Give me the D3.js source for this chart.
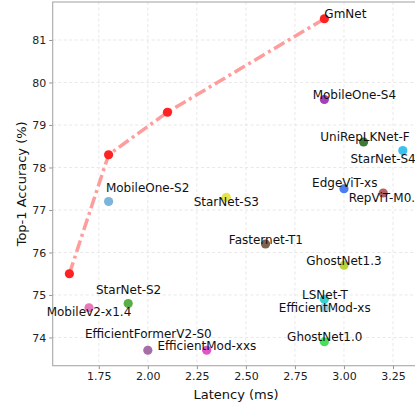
<!DOCTYPE html>
<html>
<head>
<meta charset="utf-8">
<script src="https://cdn.jsdelivr.net/npm/d3@7"></script>
<style>
  html, body { margin: 0; padding: 0; background: #fff; }
  svg { display: block; font-family: "DejaVu Sans", sans-serif; }
</style>
</head>
<body>
<svg id="chart" width="415" height="406"></svg>
<script>
// ---- data ----
const frontierLatency = [1.6, 1.8, 2.1, 2.9];
const frontierAccuracy = [75.5, 78.3, 79.3, 81.5];
const frontierName = "GmNet";

const models = ["MobileOne-S4", "UniRepLKNet-F", "StarNet-S4", "EdgeViT-xs", "RepViT-M0.9",
  "MobileOne-S2", "StarNet-S3", "Fasternet-T1", "GhostNet1.3", "LSNet-T", "EfficientMod-xs",
  "GhostNet1.0", "StarNet-S2", "Mobilev2-x1.4", "EfficientFormerV2-S0", "EfficientMod-xxs"];
const latency = [2.9, 3.1, 3.3, 3.0, 3.2, 1.8, 2.4, 2.6, 3.0, 2.9, 2.9, 2.9, 1.9, 1.7, 2.0, 2.3];
const accuracy = [79.6, 78.6, 78.4, 77.5, 77.4, 77.2, 77.3, 76.2, 75.7, 74.9, 74.7, 73.9, 74.8, 74.7, 73.7, 73.7];

const xTicks = [1.75, 2.00, 2.25, 2.50, 2.75, 3.00, 3.25];
const yTicks = [74, 75, 76, 77, 78, 79, 80, 81];
const xLabel = "Latency (ms)";
const yLabel = "Top-1 Accuracy (%)";

// ---- styles (kept apart from data) ----
const colors = ["#a341b9", "#3b7a37", "#3cc1ee", "#4a7ef0", "#b26262",
  "#7bb5dc", "#e6e64a", "#7d6352", "#b7d63a", "#3ccfcf", "#90d2f0",
  "#46e05a", "#5aae4a", "#e879b8", "#a66ea6", "#e056c6"];
// label offsets in px (dx, dy) relative to the point
const labelShift = [[30, -4.2], [1.4, -5], [-19.7, 8.8], [0.8, -5.7], [2.5, 5],
  [39, -13.5], [0, 4.5], [0.4, -4], [0, -4], [0.6, -4.5], [0.4, 0],
  [0.4, -4.5], [0.4, -13.2], [0, 4.5], [0.5, -16.7], [0.2, -4.3]];
const frontierLabelShift = [21, -4.5];

// ---- layout ----
const mLeft = 52.7, mRight = 419.5, mTop = 2, mBottom = 365.7;

const x = d3.scaleLinear().domain([1.515, 3.385]).range([mLeft, mRight]);
const y = d3.scaleLinear().domain([73.336, 81.894]).range([mBottom, mTop]);

const svg = d3.select("#chart");

// grid
const grid = svg.append("g");
grid.selectAll(".gx").data(xTicks).enter().append("line")
  .attr("x1", d => x(d)).attr("x2", d => x(d)).attr("y1", mTop).attr("y2", mBottom)
  .attr("stroke", "#e2e2e2").attr("stroke-width", 0.8).attr("stroke-dasharray", "3,2.5");
grid.selectAll(".gy").data(yTicks).enter().append("line")
  .attr("x1", mLeft).attr("x2", mRight).attr("y1", d => y(d)).attr("y2", d => y(d))
  .attr("stroke", "#e2e2e2").attr("stroke-width", 0.8).attr("stroke-dasharray", "3,2.5");

// axes
const xAxis = d3.axisBottom(x).tickValues(xTicks).tickFormat(d3.format(".2f")).tickSize(3.5).tickPadding(3);
const yAxis = d3.axisLeft(y).tickValues(yTicks).tickFormat(d3.format("d")).tickSize(3.5).tickPadding(3);
const gx = svg.append("g").attr("transform", `translate(0,${mBottom})`).call(xAxis);
const gy = svg.append("g").attr("transform", `translate(${mLeft},0)`).call(yAxis);
[gx, gy].forEach(g => {
  g.select(".domain").remove();
  g.selectAll(".tick line").attr("stroke", "#888").attr("stroke-width", 0.9);
  g.selectAll(".tick text").attr("fill", "#222").style("font-size", "11px")
    .style("font-family", "DejaVu Sans, sans-serif");
});

// spines
svg.append("rect").attr("x", mLeft).attr("y", mTop).attr("width", mRight - mLeft).attr("height", mBottom - mTop)
  .attr("fill", "none").attr("stroke", "#a8a8a8").attr("stroke-width", 1.1);

// frontier line
const line = d3.line().x(d => x(d[0])).y(d => y(d[1]));
const fData = frontierLatency.map((v, i) => [v, frontierAccuracy[i]]);
svg.append("path").datum(fData).attr("d", line)
  .attr("fill", "none").attr("stroke", "#ff9c9c").attr("stroke-width", 3.5)
  .attr("stroke-dasharray", "12,4,3,4");

// frontier points
svg.selectAll(".fp").data(fData).enter().append("circle")
  .attr("cx", d => x(d[0])).attr("cy", d => y(d[1])).attr("r", 4.6)
  .attr("fill", "#ff2222");

// other model points
const pts = models.map((m, i) => ({ m, lx: latency[i], ac: accuracy[i], c: colors[i], s: labelShift[i] }));
svg.selectAll(".mp").data(pts).enter().append("circle")
  .attr("cx", d => x(d.lx)).attr("cy", d => y(d.ac)).attr("r", 4.6)
  .attr("fill", d => d.c);

// labels
const labels = svg.append("g").style("font-size", "12px").attr("fill", "#111");
labels.selectAll("text").data(pts).enter().append("text")
  .attr("x", d => x(d.lx) + d.s[0]).attr("y", d => y(d.ac) + d.s[1])
  .attr("text-anchor", "middle").attr("dominant-baseline", "central")
  .text(d => d.m);
const last = fData[fData.length - 1];
labels.append("text")
  .attr("x", x(last[0]) + frontierLabelShift[0]).attr("y", y(last[1]) + frontierLabelShift[1])
  .attr("text-anchor", "middle").attr("dominant-baseline", "central")
  .text(frontierName);

// axis labels
svg.append("text").attr("x", (mLeft + mRight) / 2).attr("y", 394.3)
  .attr("text-anchor", "middle").attr("dominant-baseline", "central")
  .style("font-size", "13px").attr("fill", "#111").text(xLabel);
svg.append("text").attr("transform", `translate(21,${(mTop + mBottom) / 2}) rotate(-90)`)
  .attr("text-anchor", "middle").attr("dominant-baseline", "central")
  .style("font-size", "13px").attr("fill", "#111").text(yLabel);
</script>
</body>
</html>
